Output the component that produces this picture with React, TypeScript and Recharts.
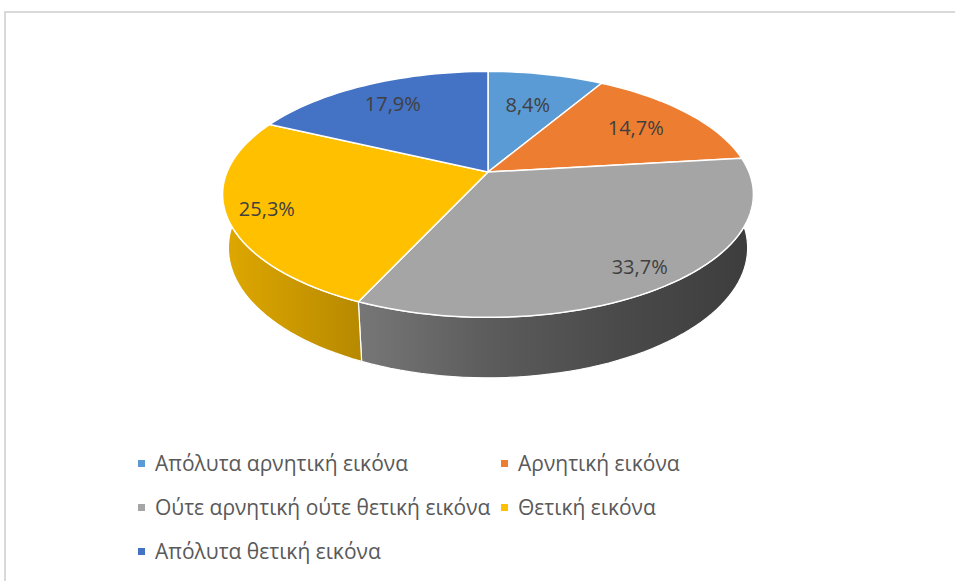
import { PieChart, Pie, Legend } from 'recharts'

const categories = [
    'Απόλυτα αρνητική εικόνα',
    'Αρνητική εικόνα',
    'Ούτε αρνητική ούτε θετική εικόνα',
    'Θετική εικόνα',
    'Απόλυτα θετική εικόνα',
]
const shares = [8.4, 14.7, 33.7, 25.3, 17.9]
const colors = ['#5B9BD5', '#ED7D31', '#A5A5A5', '#FFC000', '#4472C4']

const data = categories.map((name, i) => ({ name, value: shares[i], fill: colors[i] }))

// perspective settings for the fake 3D look
const PERSP = 0.2045
const TILT = (27.1 * Math.PI) / 180
const THICK = 0.232
const FONT = '"Open Sans", "Noto Sans", sans-serif'

const project = (cx: number, cy: number, rho: number, phiDeg: number, s: number, y: number) => {
    const phi = (phiDeg * Math.PI) / 180
    const X = s * Math.sin(phi)
    const Z = s * Math.cos(phi)
    const d = 1 + PERSP * (Z * Math.cos(TILT) - y * Math.sin(TILT))
    const up = y * Math.cos(TILT) + Z * Math.sin(TILT)
    return [cx + (rho * X) / d, cy - (rho * up) / d]
}

const arc = (cx: number, cy: number, rho: number, a0: number, a1: number, y: number) => {
    const steps = Math.max(8, Math.ceil(Math.abs(a1 - a0) / 2))
    const pts: string[] = []
    for (let i = 0; i <= steps; i++) {
        const [x, yy] = project(cx, cy, rho, a0 + ((a1 - a0) * i) / steps, 1, y)
        pts.push(`${x.toFixed(2)},${yy.toFixed(2)}`)
    }
    return pts
}

const shade = (hex: string, f: number) => {
    const n = parseInt(hex.slice(1), 16)
    const r = Math.round(((n >> 16) & 255) * f)
    const g = Math.round(((n >> 8) & 255) * f)
    const b = Math.round((n & 255) * f)
    return `rgb(${r},${g},${b})`
}

const wallStops = [
    [0, 0.87],
    [0.25, 0.72],
    [0.5, 0.56],
    [0.75, 0.45],
    [1, 0.37],
]

const WallShape = (props: any) => {
    const { cx, cy, outerRadius, startAngle, endAngle, fill, index } = props
    const p0 = 90 - startAngle
    const p1 = 90 - endAngle
    const top = arc(cx, cy, outerRadius, p0, p1, 0)
    const bottom = arc(cx, cy, outerRadius, p1, p0, -THICK)
    const id = `wall-grad-${index}`
    return (
        <g>
            <defs>
                <linearGradient
                    id={id}
                    gradientUnits="userSpaceOnUse"
                    x1={cx - outerRadius}
                    x2={cx + outerRadius}
                    y1={0}
                    y2={0}
                >
                    {wallStops.map(([o, f]) => (
                        <stop key={o} offset={o} stopColor={shade(fill, f)} />
                    ))}
                </linearGradient>
            </defs>
            <path
                d={`M${top.join(' L')} L${bottom.join(' L')} Z`}
                fill={`url(#${id})`}
                stroke="#ffffff"
                strokeWidth={1.2}
                strokeLinejoin="round"
            />
        </g>
    )
}

const TopShape = (props: any) => {
    const { cx, cy, outerRadius, startAngle, endAngle, fill } = props
    const top = arc(cx, cy, outerRadius, 90 - startAngle, 90 - endAngle, 0)
    return (
        <path
            d={`M${cx},${cy} L${top.join(' L')} Z`}
            fill={fill}
            stroke="#ffffff"
            strokeWidth={1.5}
            strokeLinejoin="round"
        />
    )
}

// bigger slices get their label pushed further out, like Excel's best fit
const renderLabel = (props: any) => {
    const { cx, cy, outerRadius, midAngle, value, percent } = props
    const s = Math.min(0.86, 0.55 + 1.2 * percent)
    const [x, y] = project(cx, cy, outerRadius, 90 - midAngle, s, 0)
    return (
        <text
            x={x}
            y={y}
            textAnchor="middle"
            dominantBaseline="central"
            fill="#404040"
            fontSize={20}
            fontFamily={FONT}
        >
            {`${Number(value).toFixed(1).replace('.', ',')}%`}
        </text>
    )
}

const renderLegend = (props: any) => {
    const items = [...(props.payload || [])]
        .filter((p: any) => p.type !== 'none')
        .sort((a: any, b: any) => categories.indexOf(a.value) - categories.indexOf(b.value))
    return (
        <div
            style={{
                display: 'grid',
                gridTemplateColumns: '363px auto',
                fontFamily: FONT,
                fontSize: 21,
                color: '#595959',
            }}
        >
            {items.map((p: any) => (
                <div key={p.value} style={{ display: 'flex', alignItems: 'center', height: 44 }}>
                    <span
                        style={{
                            display: 'inline-block',
                            width: 7,
                            height: 7,
                            background: p.color,
                            marginRight: 10,
                        }}
                    />
                    <span>{p.value}</span>
                </div>
            ))}
        </div>
    )
}

export default function App() {
    return (
        <div
            style={{
                position: 'fixed',
                left: 0,
                top: 0,
                width: 955,
                height: 581,
                background: '#ffffff',
                overflow: 'hidden',
            }}
        >
            <div
                style={{
                    position: 'absolute',
                    left: 4,
                    top: 11,
                    width: 980,
                    height: 600,
                    borderTop: '2px solid #d9d9d9',
                    borderLeft: '2px solid #d9d9d9',
                }}
            />
            <div style={{ position: 'absolute', left: 0, top: 0 }}>
                <PieChart width={955} height={581} margin={{ top: 0, right: 0, bottom: 0, left: 0 }}>
                    <Pie
                        data={data}
                        dataKey="value"
                        nameKey="name"
                        cx={488}
                        cy={172}
                        outerRadius={261}
                        startAngle={90}
                        endAngle={-270}
                        legendType="none"
                        shape={WallShape}
                        activeShape={WallShape}
                        inactiveShape={WallShape}
                        isAnimationActive={false}
                    />
                    <Pie
                        data={data}
                        dataKey="value"
                        nameKey="name"
                        cx={488}
                        cy={172}
                        outerRadius={261}
                        startAngle={90}
                        endAngle={-270}
                        legendType="square"
                        shape={TopShape}
                        activeShape={TopShape}
                        inactiveShape={TopShape}
                        label={renderLabel}
                        labelLine={false}
                        isAnimationActive={false}
                    />
                    <Legend
                        content={renderLegend}
                        wrapperStyle={{ left: 138, top: 441, width: 700, bottom: 'auto' }}
                    />
                </PieChart>
            </div>
        </div>
    )
}
